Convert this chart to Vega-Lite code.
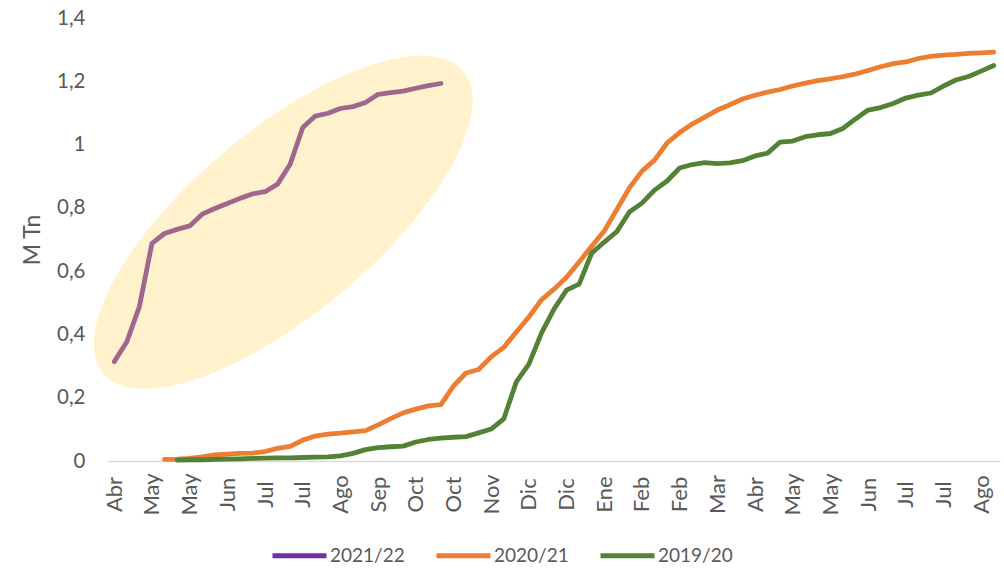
{
  "$schema": "https://vega.github.io/schema/vega-lite/v6.json",
  "width": 892,
  "height": 443,
  "autosize": {"type": "none"},
  "padding": {"left": 108, "top": 18, "right": 4, "bottom": 108},
  "background": "white",
  "config": {
    "view": {"stroke": null},
    "font": "Lato",
    "axis": {"titleFontSize": 23, "titleFontWeight": "normal", "titleColor": "#595959", "titleFont": "Lato"}
  },
  "resolve": {"axis": {"x": "independent", "y": "independent"}},
  "datasets": {
    "series": [
      {"temporada": "2021/22", "i": 0, "v": 0.314},
      {"temporada": "2021/22", "i": 1, "v": 0.377},
      {"temporada": "2021/22", "i": 2, "v": 0.488},
      {"temporada": "2021/22", "i": 3, "v": 0.688},
      {"temporada": "2021/22", "i": 4, "v": 0.719},
      {"temporada": "2021/22", "i": 5, "v": 0.732},
      {"temporada": "2021/22", "i": 6, "v": 0.743},
      {"temporada": "2021/22", "i": 7, "v": 0.780},
      {"temporada": "2021/22", "i": 8, "v": 0.798},
      {"temporada": "2021/22", "i": 9, "v": 0.814},
      {"temporada": "2021/22", "i": 10, "v": 0.830},
      {"temporada": "2021/22", "i": 11, "v": 0.844},
      {"temporada": "2021/22", "i": 12, "v": 0.851},
      {"temporada": "2021/22", "i": 13, "v": 0.875},
      {"temporada": "2021/22", "i": 14, "v": 0.938},
      {"temporada": "2021/22", "i": 15, "v": 1.054},
      {"temporada": "2021/22", "i": 16, "v": 1.090},
      {"temporada": "2021/22", "i": 17, "v": 1.099},
      {"temporada": "2021/22", "i": 18, "v": 1.114},
      {"temporada": "2021/22", "i": 19, "v": 1.120},
      {"temporada": "2021/22", "i": 20, "v": 1.133},
      {"temporada": "2021/22", "i": 21, "v": 1.159},
      {"temporada": "2021/22", "i": 22, "v": 1.164},
      {"temporada": "2021/22", "i": 23, "v": 1.169},
      {"temporada": "2021/22", "i": 24, "v": 1.178},
      {"temporada": "2021/22", "i": 25, "v": 1.186},
      {"temporada": "2021/22", "i": 26, "v": 1.193},

      {"temporada": "2020/21", "i": 4, "v": 0.005},
      {"temporada": "2020/21", "i": 5, "v": 0.006},
      {"temporada": "2020/21", "i": 6, "v": 0.008},
      {"temporada": "2020/21", "i": 7, "v": 0.013},
      {"temporada": "2020/21", "i": 8, "v": 0.019},
      {"temporada": "2020/21", "i": 9, "v": 0.022},
      {"temporada": "2020/21", "i": 10, "v": 0.024},
      {"temporada": "2020/21", "i": 11, "v": 0.025},
      {"temporada": "2020/21", "i": 12, "v": 0.030},
      {"temporada": "2020/21", "i": 13, "v": 0.040},
      {"temporada": "2020/21", "i": 14, "v": 0.046},
      {"temporada": "2020/21", "i": 15, "v": 0.066},
      {"temporada": "2020/21", "i": 16, "v": 0.079},
      {"temporada": "2020/21", "i": 17, "v": 0.085},
      {"temporada": "2020/21", "i": 18, "v": 0.088},
      {"temporada": "2020/21", "i": 19, "v": 0.092},
      {"temporada": "2020/21", "i": 20, "v": 0.096},
      {"temporada": "2020/21", "i": 21, "v": 0.114},
      {"temporada": "2020/21", "i": 22, "v": 0.134},
      {"temporada": "2020/21", "i": 23, "v": 0.152},
      {"temporada": "2020/21", "i": 24, "v": 0.164},
      {"temporada": "2020/21", "i": 25, "v": 0.174},
      {"temporada": "2020/21", "i": 26, "v": 0.178},
      {"temporada": "2020/21", "i": 27, "v": 0.237},
      {"temporada": "2020/21", "i": 28, "v": 0.278},
      {"temporada": "2020/21", "i": 29, "v": 0.289},
      {"temporada": "2020/21", "i": 30, "v": 0.329},
      {"temporada": "2020/21", "i": 31, "v": 0.359},
      {"temporada": "2020/21", "i": 32, "v": 0.408},
      {"temporada": "2020/21", "i": 33, "v": 0.455},
      {"temporada": "2020/21", "i": 34, "v": 0.509},
      {"temporada": "2020/21", "i": 35, "v": 0.543},
      {"temporada": "2020/21", "i": 36, "v": 0.581},
      {"temporada": "2020/21", "i": 37, "v": 0.629},
      {"temporada": "2020/21", "i": 38, "v": 0.679},
      {"temporada": "2020/21", "i": 39, "v": 0.727},
      {"temporada": "2020/21", "i": 40, "v": 0.795},
      {"temporada": "2020/21", "i": 41, "v": 0.863},
      {"temporada": "2020/21", "i": 42, "v": 0.916},
      {"temporada": "2020/21", "i": 43, "v": 0.951},
      {"temporada": "2020/21", "i": 44, "v": 1.005},
      {"temporada": "2020/21", "i": 45, "v": 1.038},
      {"temporada": "2020/21", "i": 46, "v": 1.065},
      {"temporada": "2020/21", "i": 47, "v": 1.087},
      {"temporada": "2020/21", "i": 48, "v": 1.109},
      {"temporada": "2020/21", "i": 49, "v": 1.126},
      {"temporada": "2020/21", "i": 50, "v": 1.144},
      {"temporada": "2020/21", "i": 51, "v": 1.156},
      {"temporada": "2020/21", "i": 52, "v": 1.166},
      {"temporada": "2020/21", "i": 53, "v": 1.174},
      {"temporada": "2020/21", "i": 54, "v": 1.185},
      {"temporada": "2020/21", "i": 55, "v": 1.194},
      {"temporada": "2020/21", "i": 56, "v": 1.202},
      {"temporada": "2020/21", "i": 57, "v": 1.208},
      {"temporada": "2020/21", "i": 58, "v": 1.215},
      {"temporada": "2020/21", "i": 59, "v": 1.223},
      {"temporada": "2020/21", "i": 60, "v": 1.234},
      {"temporada": "2020/21", "i": 61, "v": 1.246},
      {"temporada": "2020/21", "i": 62, "v": 1.256},
      {"temporada": "2020/21", "i": 63, "v": 1.261},
      {"temporada": "2020/21", "i": 64, "v": 1.272},
      {"temporada": "2020/21", "i": 65, "v": 1.279},
      {"temporada": "2020/21", "i": 66, "v": 1.283},
      {"temporada": "2020/21", "i": 67, "v": 1.285},
      {"temporada": "2020/21", "i": 68, "v": 1.288},
      {"temporada": "2020/21", "i": 69, "v": 1.290},
      {"temporada": "2020/21", "i": 70, "v": 1.292},

      {"temporada": "2019/20", "i": 5, "v": 0.003},
      {"temporada": "2019/20", "i": 6, "v": 0.004},
      {"temporada": "2019/20", "i": 7, "v": 0.004},
      {"temporada": "2019/20", "i": 8, "v": 0.005},
      {"temporada": "2019/20", "i": 9, "v": 0.006},
      {"temporada": "2019/20", "i": 10, "v": 0.007},
      {"temporada": "2019/20", "i": 11, "v": 0.008},
      {"temporada": "2019/20", "i": 12, "v": 0.009},
      {"temporada": "2019/20", "i": 13, "v": 0.010},
      {"temporada": "2019/20", "i": 14, "v": 0.010},
      {"temporada": "2019/20", "i": 15, "v": 0.011},
      {"temporada": "2019/20", "i": 16, "v": 0.012},
      {"temporada": "2019/20", "i": 17, "v": 0.013},
      {"temporada": "2019/20", "i": 18, "v": 0.016},
      {"temporada": "2019/20", "i": 19, "v": 0.024},
      {"temporada": "2019/20", "i": 20, "v": 0.036},
      {"temporada": "2019/20", "i": 21, "v": 0.042},
      {"temporada": "2019/20", "i": 22, "v": 0.045},
      {"temporada": "2019/20", "i": 23, "v": 0.047},
      {"temporada": "2019/20", "i": 24, "v": 0.060},
      {"temporada": "2019/20", "i": 25, "v": 0.068},
      {"temporada": "2019/20", "i": 26, "v": 0.072},
      {"temporada": "2019/20", "i": 27, "v": 0.075},
      {"temporada": "2019/20", "i": 28, "v": 0.077},
      {"temporada": "2019/20", "i": 29, "v": 0.089},
      {"temporada": "2019/20", "i": 30, "v": 0.101},
      {"temporada": "2019/20", "i": 31, "v": 0.133},
      {"temporada": "2019/20", "i": 32, "v": 0.250},
      {"temporada": "2019/20", "i": 33, "v": 0.306},
      {"temporada": "2019/20", "i": 34, "v": 0.404},
      {"temporada": "2019/20", "i": 35, "v": 0.480},
      {"temporada": "2019/20", "i": 36, "v": 0.540},
      {"temporada": "2019/20", "i": 37, "v": 0.559},
      {"temporada": "2019/20", "i": 38, "v": 0.657},
      {"temporada": "2019/20", "i": 39, "v": 0.692},
      {"temporada": "2019/20", "i": 40, "v": 0.725},
      {"temporada": "2019/20", "i": 41, "v": 0.787},
      {"temporada": "2019/20", "i": 42, "v": 0.815},
      {"temporada": "2019/20", "i": 43, "v": 0.856},
      {"temporada": "2019/20", "i": 44, "v": 0.885},
      {"temporada": "2019/20", "i": 45, "v": 0.926},
      {"temporada": "2019/20", "i": 46, "v": 0.937},
      {"temporada": "2019/20", "i": 47, "v": 0.943},
      {"temporada": "2019/20", "i": 48, "v": 0.940},
      {"temporada": "2019/20", "i": 49, "v": 0.942},
      {"temporada": "2019/20", "i": 50, "v": 0.949},
      {"temporada": "2019/20", "i": 51, "v": 0.964},
      {"temporada": "2019/20", "i": 52, "v": 0.973},
      {"temporada": "2019/20", "i": 53, "v": 1.008},
      {"temporada": "2019/20", "i": 54, "v": 1.011},
      {"temporada": "2019/20", "i": 55, "v": 1.025},
      {"temporada": "2019/20", "i": 56, "v": 1.031},
      {"temporada": "2019/20", "i": 57, "v": 1.035},
      {"temporada": "2019/20", "i": 58, "v": 1.051},
      {"temporada": "2019/20", "i": 59, "v": 1.081},
      {"temporada": "2019/20", "i": 60, "v": 1.109},
      {"temporada": "2019/20", "i": 61, "v": 1.117},
      {"temporada": "2019/20", "i": 62, "v": 1.130},
      {"temporada": "2019/20", "i": 63, "v": 1.147},
      {"temporada": "2019/20", "i": 64, "v": 1.156},
      {"temporada": "2019/20", "i": 65, "v": 1.163},
      {"temporada": "2019/20", "i": 66, "v": 1.185},
      {"temporada": "2019/20", "i": 67, "v": 1.204},
      {"temporada": "2019/20", "i": 68, "v": 1.215},
      {"temporada": "2019/20", "i": 69, "v": 1.232},
      {"temporada": "2019/20", "i": 70, "v": 1.250}
    ],
    "elipse": [
      {"i": 13.45, "v": 0.755}
    ]
  },
  "layer": [
    {
      "data": {"name": "series"},
      "mark": {"type": "line", "strokeWidth": 4.8, "strokeCap": "round", "strokeJoin": "round"},
      "encoding": {
        "x": {
          "field": "i", "type": "quantitative",
          "scale": {"domain": [-0.5, 70.5], "nice": false, "zero": false},
          "axis": {
            "title": null,
            "values": [0,3,6,9,12,15,18,21,24,27,30,33,36,39,42,45,48,51,54,57,60,63,66,69],
            "labelExpr": "['Abr','May','May','Jun','Jul','Jul','Ago','Sep','Oct','Oct','Nov','Dic','Dic','Ene','Feb','Feb','Mar','Abr','May','May','Jun','Jul','Jul','Ago'][round(datum.value/3)]",
            "grid": false, "ticks": false, "tickSize": 0,
            "domainColor": "#D9D9D9", "domainWidth": 1.5,
            "labelAngle": -90, "labelAlign": "center", "labelBaseline": "middle",
            "labelPadding": 33, "labelFontSize": 22, "labelColor": "#595959",
            "labelFlush": false, "labelOverlap": false, "labelBound": false
          }
        },
        "y": {
          "field": "v", "type": "quantitative",
          "scale": {"domain": [0, 1.4], "nice": false},
          "axis": {
            "title": "M Tn",
            "values": [0, 0.2, 0.4, 0.6, 0.8, 1, 1.2, 1.4],
            "labelExpr": "replace(format(datum.value, '.1~f'), '.', ',')",
            "grid": false, "ticks": false, "tickSize": 0, "domain": false,
            "labelPadding": 23, "labelFontSize": 20.5, "labelColor": "#595959",
            "titleFontSize": 23, "titleFontWeight": "normal", "titleColor": "#595959",
            "titlePadding": 12
          }
        },
        "color": {
          "field": "temporada", "type": "nominal",
          "scale": {"domain": ["2021/22", "2020/21", "2019/20"], "range": ["#7030A0", "#ED7D31", "#548235"]},
          "legend": {
            "title": null, "orient": "none", "direction": "horizontal",
            "legendX": 162, "legendY": 508,
            "symbolType": "stroke", "symbolSize": 2916, "symbolStrokeWidth": 5,
            "labelFontSize": 19, "labelColor": "#595959", "labelOffset": 1,
            "columnPadding": 21, "padding": 0
          }
        }
      }
    },
    {
      "data": {"name": "elipse"},
      "mark": {
        "type": "point",
        "shape": "M-1,0C-1,-0.2154,-0.5523,-0.39,0,-0.39C0.5523,-0.39,1,-0.2154,1,0C1,0.2154,0.5523,0.39,0,0.39C-0.5523,0.39,-1,0.2154,-1,0Z",
        "size": 220900,
        "angle": -40,
        "filled": true,
        "fill": "#FFD966",
        "fillOpacity": 0.33,
        "opacity": 1,
        "strokeWidth": 0
      },
      "encoding": {
        "x": {"field": "i", "type": "quantitative", "axis": null},
        "y": {"field": "v", "type": "quantitative", "axis": null}
      }
    }
  ]
}
